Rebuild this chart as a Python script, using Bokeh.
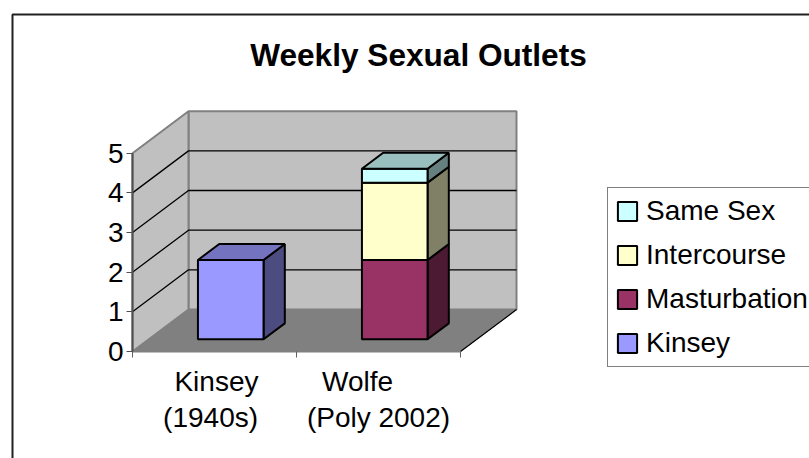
from bokeh.plotting import figure
from bokeh.models import (Range1d, FixedTicker, LinearAxis, Legend, LegendItem,
                          BoxAnnotation, ColumnDataSource, Label)
from bokeh.embed import file_html
from bokeh.resources import INLINE

# ---- data ----
title_text = "Weekly Sexual Outlets"
categories = ["Kinsey (1940s)", "Wolfe (Poly 2002)"]
kinsey = [2.0, 0.0]
masturbation = [0.0, 2.0]
intercourse = [0.0, 1.95]
same_sex = [0.0, 0.35]
y_ticks = [0, 1, 2, 3, 4, 5]
label_line1 = {0.512: "Kinsey", 1.372: "Wolfe"}
label_line2 = {0.476: "(1940s)", 1.5: "(Poly 2002)"}

series = [
    ("Kinsey", kinsey, (0x99, 0x99, 0xFF)),
    ("Masturbation", masturbation, (0x99, 0x33, 0x66)),
    ("Intercourse", intercourse, (0xFF, 0xFF, 0xCC)),
    ("Same Sex", same_sex, (0xCC, 0xFF, 0xFF)),
]
legend_order = ["Same Sex", "Intercourse", "Masturbation", "Kinsey"]

# ---- layout / pseudo-3D projection ----
FIG_W, FIG_H = 809, 458
ORIGIN_X, ORIGIN_Y = 132.0, 351.0      # where category 0 / value 0 fall on the page
PX_CAT, PX_VAL = 164.0, 39.66
DX, DY = 56.0 / PX_CAT, 42.0 / PX_VAL   # shift of the back plane, in data units
Y_MAX = 5
BAR_W = 0.4
Z0, Z1 = 0.29, 0.67

def pr(cat, val, z=0.0):
    return cat + z * DX, val + z * DY

def poly(*pts):
    xy = [pr(*q) for q in pts]
    return [a for a, _ in xy], [b for _, b in xy]

def shade(rgb, k):
    return "#%02X%02X%02X" % tuple(round(c * k) for c in rgb)

n = len(categories)
p = figure(width=FIG_W, height=FIG_H, output_backend="svg", toolbar_location=None,
           x_range=Range1d(-ORIGIN_X / PX_CAT, (FIG_W - ORIGIN_X) / PX_CAT),
           y_range=Range1d(-(FIG_H - ORIGIN_Y) / PX_VAL, ORIGIN_Y / PX_VAL),
           min_border_left=0, min_border_right=0,
           min_border_top=0, min_border_bottom=0,
           background_fill_color="white", border_fill_color="white",
           outline_line_color=None)
p.grid.visible = False

FONT = "Liberation Sans"
FS = "28px"

# chart title
p.add_layout(Label(x=418, y=54, x_units="canvas", y_units="canvas", text=title_text,
                   text_font=FONT, text_font_size="31.6px", text_font_style="bold",
                   text_color="black", text_align="center", text_baseline="middle"))

# chart-area border
p.add_layout(BoxAnnotation(left=12, left_units="canvas", top=14, top_units="canvas",
                           right=1200, right_units="canvas", bottom=1200, bottom_units="canvas",
                           fill_alpha=0, line_color="#202020", line_alpha=1, line_width=2))

# walls and floor
WALL, FLOOR = "#C0C0C0", "#808080"
wx, wy = poly((0, 0, 1), (n, 0, 1), (n, Y_MAX, 1), (0, Y_MAX, 1))
p.patch(wx, wy, fill_color=WALL, line_color=FLOOR, line_width=2)
wx, wy = poly((0, 0, 0), (0, 0, 1), (0, Y_MAX, 1), (0, Y_MAX, 0))
p.patch(wx, wy, fill_color=WALL, line_color=FLOOR, line_width=2)
wx, wy = poly((0, 0, 0), (n, 0, 0), (n, 0, 1), (0, 0, 1))
p.patch(wx, wy, fill_color=FLOOR, line_color=FLOOR, line_width=1)
wx, wy = poly((n, 0, 0), (n, 0, 1))
p.line(wx, wy, line_color="black", line_width=1.2)

# gridlines
for v in y_ticks[1:-1]:
    gx, gy = poly((0, v, 0), (0, v, 1), (n, v, 1))
    p.line(gx, gy, line_color="black", line_width=1.3)

# bars
front_renderers = {}
bottoms = [0.0] * n
for name, vals, rgb in series:
    lefts, rights, bots, tops, sx, sy = [], [], [], [], [], []
    for i, v in enumerate(vals):
        if v <= 0:
            continue
        c0 = i + 0.5 - BAR_W / 2
        c1 = i + 0.5 + BAR_W / 2
        b, t = bottoms[i], bottoms[i] + v
        lx, by = pr(c0, b, Z0)
        rx, ty = pr(c1, t, Z0)
        lefts.append(lx); rights.append(rx); bots.append(by); tops.append(ty)
        a, d = poly((c1, b, Z0), (c1, b, Z1), (c1, t, Z1), (c1, t, Z0))
        sx.append(a); sy.append(d)
        bottoms[i] = t
    p.patches(sx, sy, fill_color=shade(rgb, 0.5), line_color="black", line_width=2)
    src = ColumnDataSource(dict(left=lefts, right=rights, bottom=bots, top=tops))
    front_renderers[name] = p.quad(left="left", right="right", bottom="bottom", top="top",
                                   source=src, fill_color=shade(rgb, 1.0),
                                   line_color="black", line_width=2)

# top faces, on the top of each stack
for i in range(n):
    colour = None
    for name, vals, rgb in series:
        if vals[i] > 0:
            colour = rgb
    c0, c1 = i + 0.5 - BAR_W / 2, i + 0.5 + BAR_W / 2
    tx, ty = poly((c0, bottoms[i], Z0), (c1, bottoms[i], Z0), (c1, bottoms[i], Z1), (c0, bottoms[i], Z1))
    p.patch(tx, ty, fill_color=shade(colour, 0.75), line_color="black", line_width=2)

# y axis
ya = p.yaxis[0]
ya.fixed_location = 0
ya.ticker = FixedTicker(ticks=y_ticks)
ya.bounds = (0, Y_MAX)
ya.axis_line_color = "#505050"
ya.axis_line_width = 2
ya.major_tick_line_color = "#505050"
ya.major_tick_in = 0
ya.major_tick_out = 6
ya.minor_tick_line_color = None
ya.major_label_standoff = 3
ya.major_label_text_font = FONT
ya.major_label_text_font_size = FS
ya.major_label_text_color = "black"

# x axis, two stacked rows of labels
xa = p.xaxis[0]
xa.fixed_location = 0
xa.ticker = FixedTicker(ticks=list(label_line1), minor_ticks=list(range(n + 1)))
xa.major_label_overrides = label_line1
xa.bounds = (0, n)
xa.axis_line_color = "#808080"
xa.axis_line_width = 2
xa.major_tick_line_color = None
xa.minor_tick_line_color = "#606060"
xa.minor_tick_in = 0
xa.minor_tick_out = 6
xa.major_label_standoff = 8
xa.major_label_text_font = FONT
xa.major_label_text_font_size = FS
xa.major_label_text_color = "black"

xb = LinearAxis(fixed_location=0, ticker=FixedTicker(ticks=list(label_line2)),
                major_label_overrides=label_line2,
                axis_line_color=None, major_tick_line_color=None, minor_tick_line_color=None,
                major_tick_out=0, major_tick_in=0,
                major_label_standoff=50, major_label_text_font=FONT,
                major_label_text_font_size=FS, major_label_text_color="black")
p.add_layout(xb, "below")

# legend
legend = Legend(items=[LegendItem(label=nm, renderers=[front_renderers[nm]]) for nm in legend_order],
                location=(607, 91), orientation="vertical", margin=0, padding=7,
                spacing=12, glyph_width=24, glyph_height=24, label_standoff=7,
                label_text_font=FONT, label_text_font_size=FS, label_text_color="black",
                border_line_color="black", border_line_width=1, background_fill_alpha=1)
p.add_layout(legend, "center")

open("out.html", "w").write(file_html(p, INLINE))
